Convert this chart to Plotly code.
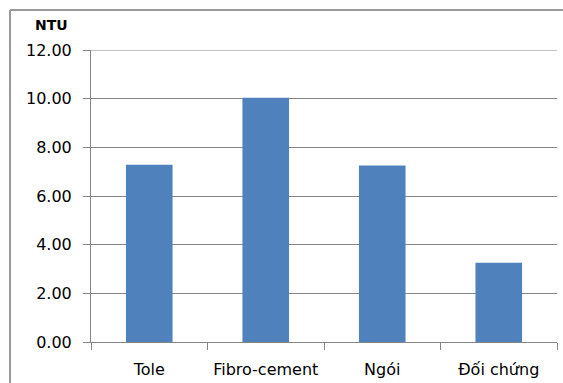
import plotly.graph_objects as go

categories = ["Tole", "Fibro-cement", "Ngói", "Đối chứng"]
values = [7.28, 10.04, 7.25, 3.26]
y_ticks = [0, 2, 4, 6, 8, 10, 12]
y_tick_labels = ["0.00", "2.00", "4.00", "6.00", "8.00", "10.00", "12.00"]
y_unit = "NTU"
y_max = 12

W, H = 563, 383
ML, MR, MT, MB = 91, 6, 50, 41
PW, PH = W - ML - MR, H - MT - MB

def px_x(p):
    return (p - ML) / PW

def px_y(p):
    return (H - MB - p) / PH

grid = "#868686"
fig = go.Figure(go.Bar(x=categories, y=values, marker=dict(color="#4F81BD", line=dict(width=0)), width=0.4))

fig.update_layout(
    width=W, height=H,
    margin=dict(l=ML, r=MR, t=MT, b=MB),
    paper_bgcolor="white", plot_bgcolor="white",
    showlegend=False,
    font=dict(family="DejaVu Sans", color="#000000"),
    xaxis=dict(
        automargin=False,
        showline=True, linecolor=grid, linewidth=1,
        ticks="outside", tickson="boundaries", ticklen=7, tickcolor=grid,
        tickfont=dict(size=16, family="DejaVu Sans", color="#000000"),
        ticklabelstandoff=13,
        showgrid=False,
    ),
    yaxis=dict(
        automargin=False,
        range=[0, y_max], tickvals=y_ticks, ticktext=y_tick_labels,
        showline=True, linecolor=grid, linewidth=1,
        ticks="outside", ticklen=7, tickcolor=grid,
        tickfont=dict(size=16, family="DejaVu Sans", color="#000000"),
        ticklabelstandoff=8,
        showgrid=True, gridcolor=grid, gridwidth=1,
        zeroline=False,
    ),
    annotations=[dict(
        text="<b>" + y_unit + "</b>", xref="paper", yref="paper",
        x=px_x(51), y=px_y(25), xanchor="center", yanchor="middle",
        showarrow=False, font=dict(size=14, family="DejaVu Sans", color="#000000"),
    )],
    shapes=[
        dict(type="line", xref="paper", yref="y",
             x0=0, x1=1, y0=y_max, y1=y_max,
             line=dict(color=grid, width=1)),
        dict(type="line", xref="paper", yref="paper",
             x0=px_x(10), x1=px_x(10), y0=px_y(10), y1=px_y(400),
             line=dict(color="#9a9a9a", width=2)),
        dict(type="line", xref="paper", yref="paper",
             x0=px_x(10), x1=px_x(600), y0=px_y(10), y1=px_y(10),
             line=dict(color="#9a9a9a", width=2)),
    ],
)

fig.write_html("out.html")
